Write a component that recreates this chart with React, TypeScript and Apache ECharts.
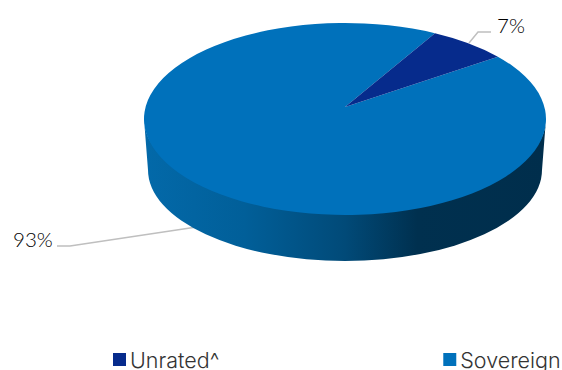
import React, { useEffect, useRef } from "react";
import * as echarts from "echarts";

const categories = ["Unrated^", "Sovereign"];
const shares = [7, 93];
const sliceColors = ["#062B8C", "#0071BB"];
const labelColor = "#000000";
const fontFamily = "Lato";
const legendFont = "Inter";

// Projected disc: the top face, the lower rim and the visual centre of the slices.
const TOP = { cx: 345, cy: 119, rx: 201, ry: 96 };
const BASE = { cx: 345, cy: 170, rx: 197, ry: 91 };
const APEX = { x: 345, y: 107 };
const START_ANGLE = 30;
const PERSPECTIVE = { depth: -0.125, scaleY: 81.1, scaleX: 199.4 };

// Leader lines run from the label out to the disc, per category.
const leaders = [
  { points: [[469, 43], [478, 32], [491, 32]], text: [497, 25] },
  { points: [[57, 246], [70, 246], [220, 223.6]], text: [13, 239] },
];

const total = shares.reduce((a, b) => a + b, 0);

// Maps an angle on the untilted disc to the point of the drawn rim ellipse.
function rimPoint(deg: number) {
  const a = (deg * Math.PI) / 180;
  const u = Math.sin(a);
  const v = -Math.cos(a);
  const w = PERSPECTIVE.depth * v + 1;
  const px = (PERSPECTIVE.scaleX * u) / w;
  const py = (APEX.y + PERSPECTIVE.scaleY * v) / w - TOP.cy;
  const t = Math.atan2(px / TOP.rx, -py / TOP.ry);
  return [TOP.cx + TOP.rx * Math.sin(t), TOP.cy - TOP.ry * Math.cos(t)];
}

function startOf(index: number) {
  let acc = 0;
  for (let i = 0; i < index; i++) acc += shares[i];
  return START_ANGLE + (acc / total) * 360;
}

// The wall's upper edge sits just inside the top face so no seam shows between them.
const wallPath =
  `M${TOP.cx + TOP.rx} ${TOP.cy} A${TOP.rx} ${TOP.ry - 6} 0 0 1 ${TOP.cx - TOP.rx} ${TOP.cy} ` +
  `L${BASE.cx - BASE.rx} ${BASE.cy} A${BASE.rx} ${BASE.ry} 0 0 0 ${BASE.cx + BASE.rx} ${BASE.cy} Z`;

function wallGradient() {
  return new echarts.graphic.LinearGradient(0, 0, 1, 0, [
    { offset: 0, color: "#0369A9" },
    { offset: 0.25, color: "#015F99" },
    { offset: 0.5, color: "#014A78" },
    { offset: 0.68, color: "#00304F" },
    { offset: 1, color: "#002E4C" },
  ]);
}

function sliceSeries(index: number) {
  return {
    type: "custom",
    name: categories[index],
    coordinateSystem: "none",
    silent: true,
    itemStyle: { color: sliceColors[index] },
    data: [[shares[index]]],
    z: index === 0 ? 3 : 2,
    renderItem: (_params: any, api: any) => {
      const value = api.value(0) as number;
      const from = startOf(index);
      const sweep = (value / total) * 360;
      const [sx, sy] = rimPoint(from);
      const [ex, ey] = rimPoint(from + sweep);
      const large = sweep > 180 ? 1 : 0;
      const leader = leaders[index];
      const children: any[] = [
        {
          type: "polyline",
          z2: 0,
          shape: { points: leader.points },
          style: { stroke: "#BFBFBF", lineWidth: 1.5, fill: "none" },
        },
      ];
      if (index === 1) {
        children.push({
          type: "path",
          z2: 1,
          shape: { pathData: wallPath, layout: "cover", x: TOP.cx - TOP.rx, y: TOP.cy, width: 2 * TOP.rx, height: BASE.cy + BASE.ry - TOP.cy },
          style: { fill: wallGradient() },
        });
      }
      children.push(
        {
          type: "path",
          z2: 2,
          shape: {
            pathData: `M${APEX.x} ${APEX.y} L${sx} ${sy} A${TOP.rx} ${TOP.ry} 0 ${large} 1 ${ex} ${ey} Z`,
          },
          style: { fill: sliceColors[index] },
        },
        {
          type: "text",
          z2: 3,
          style: {
            text: `${value}%`,
            x: leader.text[0],
            y: leader.text[1],
            fill: labelColor,
            font: `300 20.5px ${fontFamily}`,
            textAlign: "left",
            textVerticalAlign: "middle",
          },
        },
      );
      return { type: "group", children };
    },
  };
}

export default function App() {
  const ref = useRef<HTMLDivElement>(null);
  useEffect(() => {
    document.body.style.margin = "0";
    const chart = echarts.init(ref.current!, undefined, { renderer: "svg" });
    chart.setOption({
      animation: false,
      backgroundColor: "#FFFFFF",
      legend: {
        data: categories.map((name) => ({ name, icon: "rect" })),
        left: 113,
        top: 347.5,
        padding: 0,
        itemWidth: 13,
        itemHeight: 13,
        itemGap: 224,
        textStyle: { fontFamily: legendFont, fontWeight: 300, fontSize: 21.5, lineHeight: 13, color: "#333333", padding: [0, 0, 11, -1] },
      },
      series: categories.map((_, i) => sliceSeries(i)),
    });
    return () => chart.dispose();
  }, []);
  return <div ref={ref} style={{ width: 562, height: 370 }} />;
}
